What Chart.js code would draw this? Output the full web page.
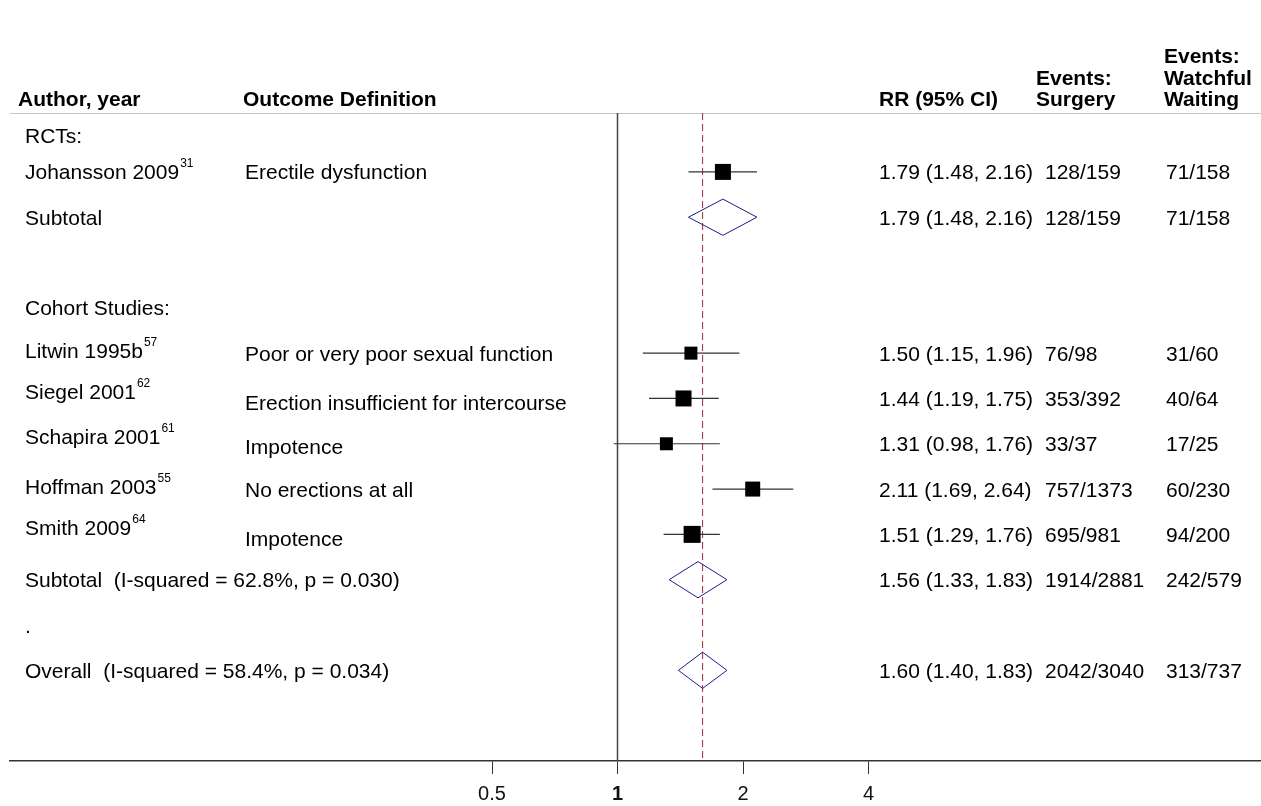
<!DOCTYPE html>
<html>
<head>
<meta charset="utf-8">
<script src="https://cdn.jsdelivr.net/npm/chart.js@4.4.0/dist/chart.umd.min.js"></script>
<style>
  html, body { margin: 0; padding: 0; background: #fff; overflow: hidden; }
  #wrap { width: 1261px; height: 806px; }
  canvas { display: block; }
</style>
</head>
<body>
<div id="wrap"><canvas id="forest" width="1261" height="806"></canvas></div>
<script>
// individual studies
const studyNames = ["Johansson 2009", "Litwin 1995b", "Siegel 2001", "Schapira 2001", "Hoffman 2003", "Smith 2009"];
const studyRefs = ["31", "57", "62", "61", "55", "64"];
const outcomes = ["Erectile dysfunction", "Poor or very poor sexual function", "Erection insufficient for intercourse",
                  "Impotence", "No erections at all", "Impotence"];
const studyRows = [1, 5, 6, 7, 8, 9];
const rr = [1.79, 1.50, 1.44, 1.31, 2.11, 1.51];
const lower = [1.48, 1.15, 1.19, 0.98, 1.69, 1.29];
const upper = [2.16, 1.96, 1.75, 1.76, 2.64, 1.76];
const eventsSurgery = ["128/159", "76/98", "353/392", "33/37", "757/1373", "695/981"];
const eventsWaiting = ["71/158", "31/60", "40/64", "17/25", "60/230", "94/200"];

// pooled estimates
const poolLabels = ["Subtotal", "Subtotal  (I-squared = 62.8%, p = 0.030)", "Overall  (I-squared = 58.4%, p = 0.034)"];
const poolRows = [2, 10, 12];
const poolRR = [1.79, 1.56, 1.60];
const poolLower = [1.48, 1.33, 1.40];
const poolUpper = [2.16, 1.83, 1.83];
const poolSurgery = ["128/159", "1914/2881", "2042/3040"];
const poolWaiting = ["71/158", "242/579", "313/737"];

const headings = ["RCTs:", "Cohort Studies:", "."];
const headingRows = [0.2, 4, 11];

const xTicks = [0.5, 1, 2, 4];
const overallRR = 1.60;

// layout / style (not data)
const FONT = '"Liberation Sans", Arial, Helvetica, sans-serif';
const squareSide = [16, 13, 16, 13, 15, 17];
const labelNudge = [0, -3, -7, -7, -3, -7];
const outcomeNudge = [0, 0, 4, 3, 0, 4];
const col = { author: 25, outcome: 245, rr: 879, surg: 1045, wait: 1166 };
const axisY = 761;
const rowMin = -0.3, rowMax = (axisY - 113) / 45.31 - 0.3;
const diamondHalf = 0.4;

const lg = v => Math.log2(v);

const datasets = [];
datasets.push({
  data: rr.map((v, i) => ({ x: lg(v), y: studyRows[i] })),
  pointStyle: 'rect',
  pointRadius: squareSide.map(s => s / (2 * Math.SQRT1_2)),
  backgroundColor: '#000',
  borderWidth: 0,
  order: 0
});
rr.forEach((v, i) => {
  datasets.push({
    data: [{ x: lg(lower[i]), y: studyRows[i] }, { x: lg(upper[i]), y: studyRows[i] }],
    showLine: true, borderColor: '#333', borderWidth: 1.2, pointRadius: 0, order: 1
  });
});
poolRR.forEach((v, i) => {
  const r = poolRows[i];
  datasets.push({
    data: [
      { x: lg(poolLower[i]), y: r },
      { x: lg(v), y: r - diamondHalf },
      { x: lg(poolUpper[i]), y: r },
      { x: lg(v), y: r + diamondHalf },
      { x: lg(poolLower[i]), y: r }
    ],
    showLine: true, borderColor: '#1c1c8a', borderWidth: 1, pointRadius: 0, fill: false, order: 1
  });
});
// null line and overall estimate line
datasets.push({
  data: [{ x: 0, y: rowMin }, { x: 0, y: rowMax }],
  showLine: true, borderColor: '#444', borderWidth: 1.5, pointRadius: 0, order: 3
});
datasets.push({
  data: [{ x: lg(overallRR), y: rowMin }, { x: lg(overallRR), y: rowMax }],
  showLine: true, borderColor: '#a02a36', borderWidth: 1, borderDash: [7, 4], pointRadius: 0, order: 2
});

function put(ctx, txt, x, y, size, weight) {
  ctx.font = (weight || 'normal') + ' ' + size + 'px ' + FONT;
  ctx.fillText(txt, x, y);
  return ctx.measureText(txt).width;
}

const textPlugin = {
  id: 'forestText',
  beforeDatasetsDraw(chart) {
    const { ctx, chartArea } = chart;
    ctx.save();
    ctx.strokeStyle = '#c4c4c4';
    ctx.lineWidth = 1;
    ctx.beginPath();
    ctx.moveTo(chartArea.left, chartArea.top + 0.5);
    ctx.lineTo(chartArea.right, chartArea.top + 0.5);
    ctx.stroke();
    ctx.restore();
  },
  afterDraw(chart) {
    const { ctx } = chart;
    const y = chart.scales.y;
    const base = r => y.getPixelForValue(r) + 7.5;
    ctx.save();
    ctx.fillStyle = '#000';
    ctx.textBaseline = 'alphabetic';
    ctx.textAlign = 'left';

    // column headers
    put(ctx, 'Author, year', 18, 106, 21, 'bold');
    put(ctx, 'Outcome Definition', 243, 106, 21, 'bold');
    put(ctx, 'RR (95% CI)', col.rr, 106, 21, 'bold');
    put(ctx, 'Events:', col.surg - 9, 85, 21, 'bold');
    put(ctx, 'Surgery', col.surg - 9, 106, 21, 'bold');
    put(ctx, 'Events:', col.wait - 2, 63, 21, 'bold');
    put(ctx, 'Watchful', col.wait - 2, 85, 21, 'bold');
    put(ctx, 'Waiting', col.wait - 2, 106, 21, 'bold');

    headings.forEach((h, i) => put(ctx, h, col.author, base(headingRows[i]), 21));

    studyNames.forEach((name, i) => {
      const by = base(studyRows[i]);
      const w = put(ctx, name, col.author, by + labelNudge[i], 21);
      put(ctx, studyRefs[i], col.author + w + 1, by + labelNudge[i] - 12, 12);
      put(ctx, outcomes[i], col.outcome, by + outcomeNudge[i], 21);
      put(ctx, rr[i].toFixed(2) + ' (' + lower[i].toFixed(2) + ', ' + upper[i].toFixed(2) + ')', col.rr, by, 21);
      put(ctx, eventsSurgery[i], col.surg, by, 21);
      put(ctx, eventsWaiting[i], col.wait, by, 21);
    });

    poolLabels.forEach((name, i) => {
      const by = base(poolRows[i]);
      put(ctx, name, col.author, by, 21);
      put(ctx, poolRR[i].toFixed(2) + ' (' + poolLower[i].toFixed(2) + ', ' + poolUpper[i].toFixed(2) + ')', col.rr, by, 21);
      put(ctx, poolSurgery[i], col.surg, by, 21);
      put(ctx, poolWaiting[i], col.wait, by, 21);
    });
    ctx.restore();
  }
};

new Chart(document.getElementById('forest'), {
  type: 'scatter',
  data: { datasets: datasets },
  options: {
    responsive: false,
    animation: false,
    events: [],
    layout: { autoPadding: false, padding: { left: 10, right: 0, top: 113, bottom: 0 } },
    plugins: { legend: { display: false }, tooltip: { enabled: false } },
    scales: {
      x: {
        type: 'linear',
        min: (10 - 617.5) / 125.5,
        max: (1261 - 617.5) / 125.5,
        afterBuildTicks: scale => { scale.ticks = xTicks.map(v => ({ value: lg(v) })); },
        afterFit: scale => { scale.height = 806 - axisY; },
        border: { display: true, color: '#333', width: 1.5 },
        grid: { drawOnChartArea: false, drawTicks: true, tickLength: 13, color: '#333', lineWidth: 1 },
        ticks: {
          padding: 10,
          color: '#111',
          maxRotation: 0,
          autoSkip: false,
          font: ctx => ({ family: FONT, size: 20, lineHeight: 1, weight: ctx.tick && ctx.tick.value === 0 ? 'bold' : 'normal' }),
          callback: value => String(+Math.pow(2, value).toFixed(2))
        }
      },
      y: {
        type: 'linear',
        display: false,
        reverse: true,
        min: rowMin,
        max: rowMax
      }
    }
  },
  plugins: [textPlugin]
});
</script>
</body>
</html>
